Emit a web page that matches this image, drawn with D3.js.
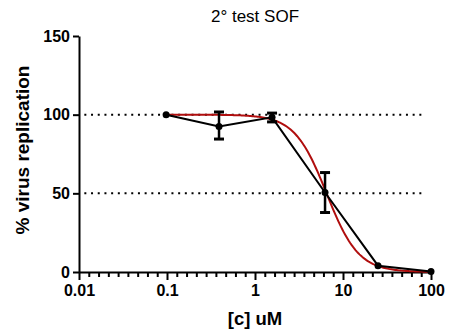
<!DOCTYPE html>
<html>
<meta http-equiv="content-type" content="text/html; charset=UTF8">
<style>
  body {margin:0; background:#fff;}
  text {font-family: "Liberation Sans", Arial, sans-serif;}
</style>
<body>
<svg id="svg1" width="449" height="336"></svg>

<script src="https://cdn.jsdelivr.net/npm/d3@7/dist/d3.min.js"></script>
<script>
// concentrations (uM) and % replication, mean with error bar ends
var conc    = [0.0977, 0.39, 1.5625, 6.25, 25, 100];
var meanVal = [100, 92.5, 98.3, 50.5, 4.0, 0.3];
var errLow  = [100, 84.5, 95.4, 37.8, 4.0, 0.3];
var errHigh = [100, 101.7, 101, 63.2, 4.0, 0.3];

// fitted dose-response curve: top, bottom, IC50, hill slope
var fitParams = [100, 0, 6.5, 2.4];

var xMajor = [0.01, 0.1, 1, 10, 100];
var xLabels = ["0.01", "0.1", "1", "10", "100"];
var yTicks = [0, 50, 100, 150];
var refLines = [100, 50];

var svg = d3.select("#svg1");

var x = d3.scaleLog().domain([0.01, 100]).range([79, 431]);
var y = d3.scaleLinear().domain([0, 150]).range([272, 36]);

// minor ticks, evenly spaced inside each decade
var xMinor = [];
for (var d = -2; d < 2; d++) {
	for (var k = 1; k < 9; k++) xMinor.push(Math.pow(10, d + k / 9));
}

// dotted reference lines
svg.selectAll(".ref").data(refLines).enter().append("line")
	.attr("class", "ref")
	.attr("x1", x(0.0115)).attr("x2", x(85))
	.attr("y1", function(d){return y(d)}).attr("y2", function(d){return y(d)})
	.style("stroke", "#000").style("stroke-width", 2)
	.style("stroke-dasharray", "2,4.7");

// axes
var gx = svg.append("g").attr("transform", "translate(0," + y(0) + ")");
gx.call(d3.axisBottom(x).tickValues(xMinor).tickSize(5).tickSizeOuter(0).tickFormat(""));
gx.selectAll("line").style("stroke-width", 2);
gx.select(".domain").remove();

var gx2 = svg.append("g").attr("transform", "translate(0," + y(0) + ")");
gx2.call(d3.axisBottom(x).tickValues(xMajor).tickSize(8).tickSizeOuter(0).tickPadding(5)
	.tickFormat(function(d, i){return xLabels[i]}));

var gy = svg.append("g").attr("transform", "translate(" + x(0.01) + ",0)");
gy.call(d3.axisLeft(y).tickValues(yTicks).tickSize(6).tickSizeOuter(0).tickPadding(3));

svg.selectAll(".domain").style("stroke-width", 2);
gx2.selectAll("line").style("stroke-width", 2);
gy.selectAll("line").style("stroke-width", 2);
svg.selectAll(".tick text")
	.style("font-size", "16px").style("font-weight", "bold").style("fill", "#000")
	.style("font-family", "'Liberation Sans', Arial, sans-serif");

// fitted curve
var fit = function(c) {
	return fitParams[1] + (fitParams[0] - fitParams[1]) / (1 + Math.pow(c / fitParams[2], fitParams[3]));
};
var curve = d3.range(0, 201).map(function(i) {
	var c = Math.pow(10, Math.log10(conc[0]) + i / 200 * (Math.log10(conc[conc.length-1]) - Math.log10(conc[0])));
	return [c, fit(c)];
});
svg.append("path").datum(curve)
	.attr("d", d3.line().x(function(d){return x(d[0])}).y(function(d){return y(d[1])}))
	.style("fill", "none").style("stroke", "#b00e0e").style("stroke-width", 2);

// connecting line
var pts = conc.map(function(c, i){return {c: c, m: meanVal[i], lo: errLow[i], hi: errHigh[i]}});
svg.append("path").datum(pts)
	.attr("d", d3.line().x(function(d){return x(d.c)}).y(function(d){return y(d.m)}))
	.style("fill", "none").style("stroke", "#000").style("stroke-width", 2);

// error bars
var eb = svg.selectAll(".eb").data(pts.filter(function(d){return d.hi > d.lo})).enter().append("g");
eb.append("line")
	.attr("x1", function(d){return x(d.c)}).attr("x2", function(d){return x(d.c)})
	.attr("y1", function(d){return y(d.lo)}).attr("y2", function(d){return y(d.hi)})
	.style("stroke", "#000").style("stroke-width", 2.5);
eb.selectAll(".cap").data(function(d){return [[d.c, d.lo], [d.c, d.hi]]}).enter().append("line")
	.attr("x1", function(d){return x(d[0]) - 5}).attr("x2", function(d){return x(d[0]) + 5})
	.attr("y1", function(d){return y(d[1])}).attr("y2", function(d){return y(d[1])})
	.style("stroke", "#000").style("stroke-width", 3);

// points
svg.selectAll(".pt").data(pts).enter().append("circle")
	.attr("cx", function(d){return x(d.c)}).attr("cy", function(d){return y(d.m)})
	.attr("r", 3.5).style("fill", "#000");

// labels
svg.append("text").attr("x", 255).attr("y", 22).attr("text-anchor", "middle")
	.style("font-size", "17px").text("2° test SOF");
svg.append("text").attr("x", 255).attr("y", 325).attr("text-anchor", "middle")
	.style("font-size", "18.5px").style("font-weight", "bold").text("[c] uM");
svg.append("text").attr("transform", "translate(29,150) rotate(-90)").attr("text-anchor", "middle")
	.style("font-size", "19px").style("font-weight", "bold").text("% virus replication");
</script>
</html>
